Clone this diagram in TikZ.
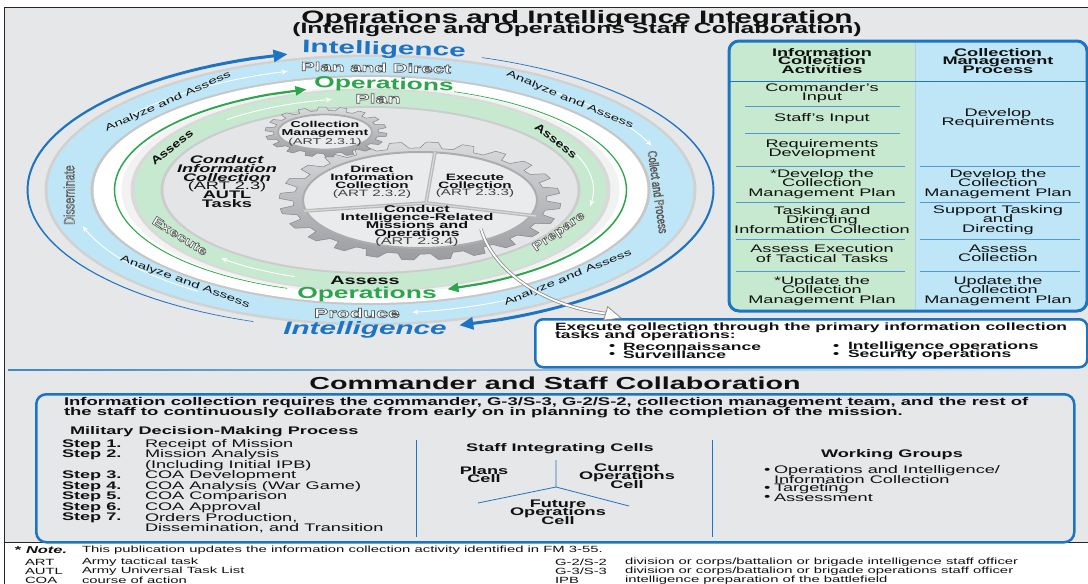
\documentclass[tikz,border=0pt]{standalone}
\usepackage{fontspec}
\setmainfont{Liberation Sans}[FakeStretch=1.65]
\newfontfamily\csf{Liberation Sans}[FakeStretch=0.72]
\newfontfamily\msf{Liberation Sans}[FakeStretch=1.3]
\usetikzlibrary{arrows.meta,calc}
\definecolor{bg}{HTML}{E6E7E9}
\definecolor{ltblue}{HTML}{BEE6F7}
\definecolor{ltgreen}{HTML}{C6E9CF}
\definecolor{iblue}{HTML}{1C74C4}
\definecolor{ogreen}{HTML}{2BA64C}
\definecolor{innerg}{HTML}{E4E5E7}
\definecolor{geartop}{HTML}{DADBDD}
\definecolor{gearbot}{HTML}{9A9CA0}
\definecolor{geardraw}{HTML}{84868A}
\definecolor{discg}{HTML}{EAEBEC}
\definecolor{txt}{HTML}{111111}
\newcommand{\fsz}[2]{\fontsize{#1}{#2}\selectfont\lineskiplimit=-100pt\relax}
\newcommand{\outl}[2]{\special{pdf:literal direct 2 Tr #1 w 0.32 G}#2\special{pdf:literal direct 0 Tr}}
\newcommand{\shtext}[6]{%
  \node[lbl,text=white,rotate=#3,font=#4] (#1) at (#2) {\outl{#5}{#6}};}
\begin{document}
\begin{tikzpicture}[x=1pt,y=-1pt,
  lbl/.style={inner sep=0pt,outer sep=0pt,text=txt},
  ml/.style={lbl,align=center},
  tb/.style={ml,font=\fsz{11}{9.2}},
  tbh/.style={ml,font=\fsz{11}{8.5}\bfseries},
  wa/.style={white,line width=0.9pt,-{Stealth[length=6pt,width=5pt]}},
  sepl/.style={iblue!75,line width=0.8pt},
]
\useasboundingbox (0,0) rectangle (1088,584);
\fill[white] (0,0) rectangle (1088,584);
\fill[bg] (4,7) rectangle (1090,542);
\draw[black!85,line width=0.8pt] (1090,7) -- (4,7) -- (4,584);
\draw[black!85,line width=0.8pt] (4,542) -- (1090,542);

% ---------------- titles
\node[lbl,font=\fsz{18}{20}\bfseries] (title) at (577,18.5) {Operations and Intelligence Integration};
\node[lbl,font=\fsz{15}{17}\bfseries] (subtitle) at (577,30) {(Intelligence and Operations Staff Collaboration)};

% ---------------- rings
\coordinate (C) at (370.5,190);
\fill[black!18] (C) ellipse [x radius=326pt, y radius=135.5pt];
\fill[ltblue] (C) ellipse [x radius=323pt, y radius=133pt];
\fill[black!22] (C) ellipse [x radius=280pt, y radius=115pt];
\fill[white] (C) ellipse [x radius=277pt, y radius=113pt];
\fill[black!5] (C) ellipse [x radius=249pt, y radius=103.5pt];
\fill[black!15] (C) ellipse [x radius=240pt, y radius=101.5pt];
\fill[ltgreen] (C) ellipse [x radius=236pt, y radius=100pt];
\fill[black!20] (C) ellipse [x radius=210pt, y radius=84pt];
\fill[innerg] (C) ellipse [x radius=207pt, y radius=82pt];

% ---------------- outer blue arrows
\fill[iblue] plot[domain=250:110,samples=60,variable=\t] ({370.5+(343+0.3+1.3*(250-\t)/140)*cos(\t)},{190-(140+0.3+1.3*(250-\t)/140)*sin(\t)})
  -- plot[domain=110:250,samples=60,variable=\t] ({370.5+(343-0.3-1.3*(250-\t)/140)*cos(\t)},{190-(140-0.3-1.3*(250-\t)/140)*sin(\t)}) -- cycle;
\draw[iblue,line width=3pt,-{Triangle[length=14pt,width=12pt]}] ({370.5+343*cos(110)},{190-140*sin(110)}) -- ({370.5+343*cos(104)},{190-140*sin(104)});
\fill[iblue] plot[domain=71:-68,samples=60,variable=\t] ({370.5+(343+0.3+1.3*(71-\t)/139)*cos(\t)},{190-(140+0.3+1.3*(71-\t)/139)*sin(\t)})
  -- plot[domain=-68:71,samples=60,variable=\t] ({370.5+(343-0.3-1.3*(71-\t)/139)*cos(\t)},{190-(140-0.3-1.3*(71-\t)/139)*sin(\t)}) -- cycle;
\draw[iblue,line width=3pt,-{Triangle[length=14pt,width=12pt]}] ({370.5+343*cos(-68)},{190-140*sin(-68)}) -- ({370.5+343*cos(-75)},{190-140*sin(-75)});

% ---------------- green arrows
\fill[ogreen] plot[domain=251:113,samples=60,variable=\t] ({370.5+(256+0.3+0.8*(251-\t)/138)*cos(\t)},{190-(104+0.3+0.8*(251-\t)/138)*sin(\t)})
  -- plot[domain=113:251,samples=60,variable=\t] ({370.5+(256-0.3-0.8*(251-\t)/138)*cos(\t)},{190-(104-0.3-0.8*(251-\t)/138)*sin(\t)}) -- cycle;
\draw[ogreen,line width=2.2pt,-{Triangle[length=11pt,width=9pt]}] ({370.5+256*cos(113)},{190-104*sin(113)}) -- ({370.5+256*cos(104.5)},{190-104*sin(104.5)});
\fill[ogreen] plot[domain=71:-64,samples=60,variable=\t] ({370.5+(256+0.3+0.8*(71-\t)/135)*cos(\t)},{190-(104+0.3+0.8*(71-\t)/135)*sin(\t)})
  -- plot[domain=-64:71,samples=60,variable=\t] ({370.5+(256-0.3-0.8*(71-\t)/135)*cos(\t)},{190-(104-0.3-0.8*(71-\t)/135)*sin(\t)}) -- cycle;
\draw[ogreen,line width=2.2pt,-{Triangle[length=11pt,width=9pt]}] ({370.5+256*cos(-64)},{190-104*sin(-64)}) -- ({370.5+256*cos(-72.5)},{190-104*sin(-72.5)});

% ---------------- white arrows in bands
\draw[wa] plot[domain=150:106,samples=30,variable=\t] ({370.5+301*cos(\t)},{190-123.5*sin(\t)});
\draw[wa] plot[domain=55:21,samples=30,variable=\t] ({370.5+301*cos(\t)},{190-123.5*sin(\t)});
\draw[wa] plot[domain=-60:-82,samples=30,variable=\t] ({370.5+301*cos(\t)},{190-123.5*sin(\t)});
\draw[wa] plot[domain=235:197,samples=30,variable=\t] ({370.5+301*cos(\t)},{190-123.5*sin(\t)});
\draw[wa] plot[domain=130:100,samples=30,variable=\t] ({370.5+223*cos(\t)},{190-92*sin(\t)});
\draw[wa] plot[domain=40:-10,samples=30,variable=\t] ({370.5+223*cos(\t)},{190-92*sin(\t)});
\draw[wa] plot[domain=250:228,samples=30,variable=\t] ({370.5+223*cos(\t)},{190-92*sin(\t)});

% ---------------- gears
\shadedraw[top color=geartop,bottom color=gearbot,draw=geardraw,line width=0.5pt,shift={(420,201)},xscale=141,yscale=59]
  (0:0.9) \foreach \i in {0,...,23} { -- ({\i*15+2.5}:1) -- ({\i*15+7.5}:1) -- ({\i*15+10}:0.9) -- ({\i*15+15}:0.9) } -- cycle;
\filldraw[fill=discg,draw=black!32,line width=2pt] (420,200) ellipse [x radius=117pt, y radius=48pt];
\draw[black!28,line width=3.6pt] (435,152) -- (426,203);
\draw[black!28,line width=3.6pt] (304,211) -- (426,203) -- (536,216);
\draw[white!85!black,line width=1.2pt] (435,152) -- (426,203);
\draw[white!85!black,line width=1.2pt] (304,211) -- (426,203) -- (536,216);
\shadedraw[top color=geartop,bottom color=gearbot,draw=geardraw,line width=0.5pt,shift={(326,132)},xscale=61,yscale=25]
  (0:0.86) \foreach \i in {0,...,17} { -- ({\i*20+3}:1) -- ({\i*20+10}:1) -- ({\i*20+13}:0.86) -- ({\i*20+20}:0.86) } -- cycle;
\filldraw[fill=discg,draw=black!32,line width=1.8pt] (325,132) ellipse [x radius=47pt, y radius=17.5pt];

% ---------------- gear texts
\node[ml,font=\fsz{8.6}{8.5}] (cm) at (325,133.5) {\textbf{Collection}\\\textbf{Management}\\{\color{black!75}(ART 2.3.1)}};
\node[ml,font=\fsz{9.2}{8}] (dic) at (372,182.5) {\textbf{Direct}\\\textbf{Information}\\\textbf{Collection}\\{\color{black!75}(ART 2.3.2)}};
\node[ml,font=\fsz{9.2}{7.6}] (exc) at (475,186) {\textbf{Execute}\\\textbf{Collection}\\{\color{black!75}(ART 2.3.3)}};
\node[ml,font=\fsz{9.8}{7.8}] (cir) at (417,226) {\textbf{Conduct}\\\textbf{Intelligence-Related}\\\textbf{Missions and}\\\textbf{Operations}\\{\color{black!75}(ART 2.3.4)}};
\node[ml,font=\fsz{11}{8.7}] (cic) at (227,181.5) {\textbf{\itshape Conduct}\\\textbf{\itshape Information}\\\textbf{\itshape Collection}\\(ART 2.3)\\\textbf{AUTL}\\\textbf{Tasks}};

% ---------------- ring texts
\node[lbl,font=\fsz{18}{20}\bfseries,text=iblue,rotate=-1.5] (intTop) at (384,50) {Intelligence};
\shtext{pad}{376,67.5}{-1}{\fsz{12.5}{14}\bfseries}{0.7}{Plan and Direct}
\node[lbl,font=\fsz{16}{18}\bfseries,text=ogreen,rotate=-1.5] (opTop) at (384,85) {Operations};
\shtext{planT}{378,98.5}{0}{\fsz{13}{14}\bfseries}{0.7}{Plan}
\node[lbl,font=\fsz{12}{14}\bfseries] (assB) at (365,280) {Assess};
\node[lbl,font=\fsz{16}{18}\bfseries,text=ogreen] (opBot) at (367,294.5) {Operations};
\shtext{prod}{357,313}{0}{\fsz{13}{14}\bfseries}{0.7}{Produce}
\node[lbl,font=\fsz{18}{20}\bfseries\itshape,text=iblue] (intBot) at (365,329.5) {Intelligence};
\node[lbl,font=\fsz{9.2}{10},rotate=24] (aaTL) at (168,102) {Analyze and Assess};
\node[lbl,font=\fsz{9.2}{10},rotate=-23] (aaTR) at (570,100) {Analyze and Assess};
\node[lbl,font=\fsz{9.2}{10},rotate=-20] (aaBL) at (185,282) {Analyze and Assess};
\node[lbl,font=\fsz{9.2}{10},rotate=22] (aaBR) at (568,278) {Analyze and Assess};
\shtext{diss}{69,195}{90}{\csf\fsz{15}{16}}{0.45}{Disseminate}
\shtext{cap}{658,192}{-82}{\csf\fsz{13}{14}}{0.45}{Collect and Process}
\node[lbl,font=\msf\fsz{11}{12}\bfseries,rotate=38] (assL) at (172,147) {Assess};
\node[lbl,font=\msf\fsz{11}{12}\bfseries,rotate=-38] (assR) at (556,141) {Assess};
\shtext{exe}{180,236}{-32}{\msf\fsz{12.5}{13}\bfseries}{0.55}{Execute}
\shtext{prep}{559,232}{35}{\msf\fsz{12.5}{13}\bfseries}{0.55}{Prepare}

% ---------------- table
\begin{scope}
\clip[rounded corners=10pt] (729,41) rectangle (1087,311);
\fill[ltgreen] (729,41) rectangle (915,311);
\fill[ltblue] (915,41) rectangle (1087,311);
\end{scope}
\draw[iblue!35,line width=0.6pt] (915,42) -- (915,310);
\draw[iblue,line width=1pt] (730,81) -- (1086,81);
\draw[sepl] (745,106) -- (900,106);
\draw[sepl] (745,133) -- (900,133);
\foreach \yy in {166,202,239,271} {
  \draw[sepl] (736,\yy) -- (905,\yy);
  \draw[sepl] (920,\yy) -- (1080,\yy);
}
\draw[iblue,line width=3pt,rounded corners=10pt] (729,41) rectangle (1087,311);
\node[tbh] (h1) at (822,61) {Information\\Collection\\Activities};
\node[tbh] (h2) at (998,61) {Collection\\Management\\Process};
\node[tb] (l1) at (822,93) {Commander’s\\Input};
\node[tb] (l2) at (822,118.5) {Staff’s Input};
\node[tb] (l3) at (822,149.5) {Requirements\\Development};
\node[tb] (l4) at (822,184) {*Develop the\\Collection\\Management Plan};
\node[tb] (l5) at (822,220) {Tasking and\\Directing\\Information Collection};
\node[tb] (l6) at (822,253.5) {Assess Execution\\of Tactical Tasks};
\node[tb] (l7) at (822,291) {*Update the\\Collection\\Management Plan};
\node[tb] (r1) at (998,118.5) {Develop\\Requirements};
\node[tb] (r2) at (998,184) {Develop the\\Collection\\Management Plan};
\node[tb] (r3) at (998,220) {Support Tasking\\and\\Directing};
\node[tb] (r4) at (998,253.5) {Assess\\Collection};
\node[tb] (r5) at (998,291) {Update the\\Collection\\Management Plan};

% ---------------- execute box
\node[draw=iblue,line width=2.5pt,rounded corners=8pt,fill=white,minimum width=552pt,minimum height=48pt,anchor=north west,inner sep=0pt] (exebox) at (534,318) {};
\node[lbl,anchor=west,font=\fsz{10.6}{12}\bfseries] (ex1) at (555,327.5) {Execute collection through the primary information collection};
\node[lbl,anchor=west,font=\fsz{10.6}{12}\bfseries] (ex2) at (555,336) {tasks and operations:};
\node[lbl,anchor=west,font=\fsz{10.6}{12}\bfseries] (b1) at (609,347) {•};
\node[lbl,anchor=west,font=\fsz{10.6}{12}\bfseries] (b1t) at (623,347) {Reconnaissance};
\node[lbl,anchor=west,font=\fsz{10.6}{12}\bfseries] (b2) at (609,355) {•};
\node[lbl,anchor=west,font=\fsz{10.6}{12}\bfseries] (b2t) at (623,355) {Surveillance};
\node[lbl,anchor=west,font=\fsz{10.6}{12}\bfseries] (b3) at (833,347) {•};
\node[lbl,anchor=west,font=\fsz{10.6}{12}\bfseries] (b3t) at (848,347) {Intelligence operations};
\node[lbl,anchor=west,font=\fsz{10.6}{12}\bfseries] (b4) at (833,355) {•};
\node[lbl,anchor=west,font=\fsz{10.6}{12}\bfseries] (b4t) at (848,355) {Security operations};

% ---------------- pointer arrow
\coordinate (ptrS) at (481,229);
\coordinate (ptrE) at (606,313.5);
\draw[black!45,line width=3.4pt] (ptrS) .. controls (492,268) and (540,306) .. (ptrE);
\draw[white,line width=1.8pt] (ptrS) .. controls (492,268) and (540,306) .. (ptrE);
\filldraw[fill=white,draw=black!45,line width=0.8pt] (621,318) -- (603.7,320.1) -- (607.7,306.7) -- cycle;

% ---------------- separator
\shade[left color=iblue!85,right color=bg] (8,369.3) rectangle (1060,370.8);

% ---------------- commander and staff
\node[lbl,font=\fsz{17.4}{19}\bfseries] (cst) at (555,383) {Commander and Staff Collaboration};
\node[draw=iblue,line width=2.5pt,rounded corners=10pt,minimum width=1038pt,minimum height=148pt,anchor=north west,inner sep=0pt] (collab) at (35,393) {};
\node[lbl,anchor=west,font=\fsz{11.2}{12}\bfseries] (c1) at (64,403) {Information collection requires the commander, G-3/S-3, G-2/S-2, collection management team, and the rest of};
\node[lbl,anchor=west,font=\fsz{11.2}{12}\bfseries] (c2) at (64,413) {the staff to continuously collaborate from early on in planning to the completion of the mission.};
\node[lbl,anchor=west,font=\fsz{11}{12}\bfseries] (mdmp) at (70,432) {Military Decision-Making Process};
\node[lbl,anchor=west,font=\fsz{11}{12}\bfseries] (s1) at (62,444.5) {Step 1.};
\node[lbl,anchor=west,font=\fsz{11}{12}] (s1t) at (145,444.5) {Receipt of Mission};
\node[lbl,anchor=west,font=\fsz{11}{12}\bfseries] (s2) at (62,455) {Step 2.};
\node[lbl,anchor=west,font=\fsz{11}{12}] (s2t) at (145,455) {Mission Analysis};
\node[lbl,anchor=west,font=\fsz{11}{12}] (s2u) at (145,465.5) {(Including Initial IPB)};
\node[lbl,anchor=west,font=\fsz{11}{12}\bfseries] (s3) at (62,476) {Step 3.};
\node[lbl,anchor=west,font=\fsz{11}{12}] (s3t) at (145,476) {COA Development};
\node[lbl,anchor=west,font=\fsz{11}{12}\bfseries] (s4) at (62,486.5) {Step 4.};
\node[lbl,anchor=west,font=\fsz{11}{12}] (s4t) at (145,486.5) {COA Analysis (War Game)};
\node[lbl,anchor=west,font=\fsz{11}{12}\bfseries] (s5) at (62,497) {Step 5.};
\node[lbl,anchor=west,font=\fsz{11}{12}] (s5t) at (145,497) {COA Comparison};
\node[lbl,anchor=west,font=\fsz{11}{12}\bfseries] (s6) at (62,507.5) {Step 6.};
\node[lbl,anchor=west,font=\fsz{11}{12}] (s6t) at (145,507.5) {COA Approval};
\node[lbl,anchor=west,font=\fsz{11}{12}\bfseries] (s7) at (62,518) {Step 7.};
\node[lbl,anchor=west,font=\fsz{11}{12}] (s7t) at (145,518) {Orders Production,};
\node[lbl,anchor=west,font=\fsz{11}{12}] (s7u) at (145,528.5) {Dissemination, and Transition};
\draw[iblue,line width=0.9pt] (416,440) -- (416,537);
\draw[iblue,line width=0.9pt] (712,440) -- (712,537);
\node[lbl,font=\fsz{11}{12}\bfseries] (sic) at (560,449) {Staff Integrating Cells};
\coordinate (yc) at (556,487);
\coordinate (yt) at (556,460);
\coordinate (yl) at (478,503);
\coordinate (yr) at (629,506);
\draw[iblue,line width=0.8pt] (yt) -- (yc) -- (yl);
\draw[iblue,line width=0.8pt] (yc) -- (yr);
\node[ml,font=\fsz{11}{8.5}\bfseries] (plans) at (484,474.5) {Plans\\Cell};
\node[ml,font=\fsz{11}{8.5}\bfseries] (curr) at (627,476) {Current\\Operations\\Cell};
\node[ml,font=\fsz{11}{8.5}\bfseries] (fut) at (558,512) {Future\\Operations\\Cell};
\node[lbl,font=\fsz{11}{12}\bfseries] (wg) at (892,455) {Working Groups};
\node[lbl,anchor=west,font=\fsz{11}{12}] (w1) at (764,471) {•};
\node[lbl,anchor=west,font=\fsz{11}{12}] (w1t) at (774,471) {Operations and Intelligence/};
\node[lbl,anchor=west,font=\fsz{11}{12}] (w1u) at (774,480) {Information Collection};
\node[lbl,anchor=west,font=\fsz{11}{12}] (w2) at (764,489) {•};
\node[lbl,anchor=west,font=\fsz{11}{12}] (w2t) at (774,489) {Targeting};
\node[lbl,anchor=west,font=\fsz{11}{12}] (w3) at (764,497.5) {•};
\node[lbl,anchor=west,font=\fsz{11}{12}] (w3t) at (774,497.5) {Assessment};

% ---------------- footer
\node[lbl,anchor=west,font=\fsz{10}{11}\bfseries] (note) at (15,550) {*~\textit{Note.}};
\node[lbl,anchor=west,font=\fsz{9}{10}] (notet) at (82,550) {This publication updates the information collection activity identified in FM 3-55.};
\node[lbl,anchor=west,font=\fsz{9}{10}] (fa1) at (25,562.5) {ART};
\node[lbl,anchor=west,font=\fsz{9}{10}] (fa1t) at (82,562.5) {Army tactical task};
\node[lbl,anchor=west,font=\fsz{9}{10}] (fa2) at (25,571.5) {AUTL};
\node[lbl,anchor=west,font=\fsz{9}{10}] (fa2t) at (82,571.5) {Army Universal Task List};
\node[lbl,anchor=west,font=\fsz{9}{10}] (fa3) at (25,580) {COA};
\node[lbl,anchor=west,font=\fsz{9}{10}] (fa3t) at (82,580) {course of action};
\node[lbl,anchor=west,font=\fsz{9}{10}] (fb1) at (555,562.5) {G-2/S-2};
\node[lbl,anchor=west,font=\fsz{9}{10}] (fb1t) at (625,562.5) {division or corps/battalion or brigade intelligence staff officer};
\node[lbl,anchor=west,font=\fsz{9}{10}] (fb2) at (555,571.5) {G-3/S-3};
\node[lbl,anchor=west,font=\fsz{9}{10}] (fb2t) at (625,571.5) {division or corps/battalion or brigade operations staff officer};
\node[lbl,anchor=west,font=\fsz{9}{10}] (fb3) at (555,580) {IPB};
\node[lbl,anchor=west,font=\fsz{9}{10}] (fb3t) at (625,580) {intelligence preparation of the battlefield};
\end{tikzpicture}
\end{document}
